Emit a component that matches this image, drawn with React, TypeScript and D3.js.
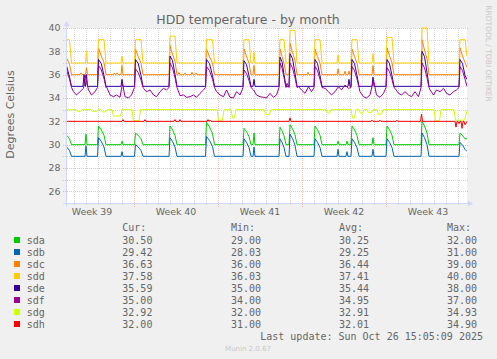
import React from "react";
import * as d3 from "d3";

const WIDTH = 497;
const HEIGHT = 359;

// time window of the graph (UTC), 800 hours
const startTime = new Date(Date.UTC(2025, 8, 23, 10, 0));
const endTime = new Date(Date.UTC(2025, 9, 26, 18, 0));
const SPAN_H = 800;

const title = "HDD temperature - by month";
const yTitle = "Degrees Celsius";
const yTicks = [26, 28, 30, 32, 34, 36, 38, 40];

const disks = ["sda", "sdb", "sdc", "sdd", "sde", "sdf", "sdg", "sdh"];
const colors = ["#00CC00", "#0066B3", "#FF8000", "#FFCC00", "#330099", "#990099", "#CCFF00", "#FF0000"];
const curVals = ["30.50", "29.42", "36.63", "37.58", "35.59", "35.00", "32.92", "32.00"];
const minVals = ["29.00", "28.03", "36.00", "36.03", "35.00", "34.00", "32.00", "31.00"];
const avgVals = ["30.25", "29.25", "36.44", "37.41", "35.44", "34.95", "32.91", "32.01"];
const maxVals = ["32.00", "31.00", "39.00", "40.00", "38.00", "37.00", "34.93", "34.90"];
const lastUpdate = "Last update: Sun Oct 26 15:05:09 2025";

// resting temperature of each disk
const baseline = [30, 29, 36, 37, 35, 34.9, 33, 32];

// shared heat-up episodes (hours since start of window)
const peakStartH = [-6, 63, 137, 206, 279, 354, 426, 446, 496, 570, 640, 710, 786];
const peakEndH = [5, 74, 148, 216, 291, 364, 434, 456, 506, 580, 650, 720, 796];

const sdaPeaks = [31.0, 31.6, 31.0, 31.6, 31.9, 31.4, 31.5, 31.7, 31.6, 31.6, 31.6, 32.0, 31.0];
const sdbPeaks = [30.0, 30.6, 30.0, 30.6, 30.7, 30.5, 30.5, 30.9, 30.5, 30.5, 30.5, 31.0, 30.2];
const sdcPeaks = [38.0, 38.3, 38.2, 38.5, 38.2, 38.2, 38.2, 38.7, 38.2, 38.2, 38.3, 39.0, 38.3];
const sddPeaks = [39.0, 39.0, 39.0, 39.3, 39.0, 39.0, 39.0, 39.8, 39.0, 39.0, 39.2, 40.0, 39.0];
const sdePeaks = [37.0, 37.3, 37.3, 37.6, 37.3, 37.2, 37.5, 37.8, 37.3, 37.3, 37.3, 38.0, 37.3];
const sdfPeaks = [36.7, 36.8, 36.5, 37.0, 36.7, 36.4, 37.0, 37.0, 36.7, 36.7, 36.6, 37.0, 36.7];

// short spikes [hour, value]
const sdaBlips = [[38, 30.9], [110, 30.3], [374, 31.0], [542, 30.3], [560, 30.3], [612, 30.6]];
const sdbBlips = [[38, 29.9], [110, 29.4], [374, 29.8], [542, 29.6], [560, 29.4], [612, 29.6]];
const sdcBlips = [[28, 36.15], [39, 36.6], [95, 36.15], [100, 36.15], [110, 36.8], [224, 36.2], [236, 36.15], [250, 36.2], [258, 36.15], [374, 36.8], [482, 36.2], [542, 36.5], [556, 36.3], [564, 36.3], [612, 36.8]];
const sddBlips = [[39, 38.0], [110, 37.6], [374, 37.9], [542, 37.7], [612, 37.8]];
const sdeBlips = [[34, 36.0], [39, 36.0], [110, 35.6], [374, 35.6], [564, 35.6], [612, 35.8]];
const sdhBlips = [[112, 32.15], [156, 32.15], [216, 32.15], [226, 32.15], [282, 32.15], [286, 32.1], [446, 32.3], [610, 32.1], [626, 32.1], [660, 32.1], [709, 32.6], [778, 31.5], [784, 31.8], [790, 31.4], [796, 31.7]];

// sdf wandering between 34 and 35 outside the episodes [hour, value]
const sdfWander = [
  [13, 34.54], [19, 34.26], [26, 34.54], [33, 34.83], [36, 35.97], [43, 34.69], [49, 34.26], [56, 34.54],
  [79, 34.97], [86, 34.26], [93, 34.11], [99, 34.26], [106, 34.06], [111, 35.26], [116, 34.11], [123, 34.0], [129, 34.26],
  [153, 34.83], [159, 34.54], [166, 34.69], [173, 34.26], [179, 34.11], [186, 34.54], [193, 34.83], [199, 34.69],
  [219, 34.69], [226, 34.2], [233, 34.26], [239, 34.06], [246, 34.11], [253, 34.26], [259, 34.06], [266, 34.4], [273, 34.69],
  [299, 34.54], [306, 34.26], [313, 34.11], [319, 34.69], [326, 34.06], [333, 34.0], [339, 34.54], [346, 34.26],
  [373, 34.69], [379, 34.26], [386, 34.11], [393, 34.06], [399, 34.0], [406, 34.4], [413, 34.06], [419, 34.26],
  [440, 35.26],
  [463, 34.97], [469, 34.69], [476, 34.4], [483, 34.97], [489, 34.54],
  [516, 34.83], [523, 34.54], [529, 34.26], [536, 34.54], [543, 34.97], [549, 34.69], [556, 35.11], [563, 34.83],
  [586, 34.54], [593, 34.11], [599, 34.0], [606, 34.26], [613, 35.54], [619, 34.26], [626, 34.06], [633, 34.4],
  [656, 34.83], [663, 34.4], [669, 34.26], [676, 34.54], [683, 34.26], [689, 34.11], [696, 34.54], [703, 34.11],
  [726, 34.69], [733, 34.26], [739, 34.69], [746, 34.54], [753, 34.83], [759, 34.4], [766, 34.26], [773, 34.54], [779, 34.69],
];

// sdg dips below 33 [startHour, endHour, value]
const sdgDips = [
  [20, 28, 32.85], [50, 60, 32.85], [70, 78, 32.8], [92, 108, 32.45], [132, 145, 32.05],
  [302, 312, 32.1], [330, 336, 32.3], [396, 406, 32.6], [520, 526, 32.7], [570, 576, 32.3],
  [586, 592, 32.7], [602, 610, 32.75], [622, 630, 32.6], [736, 746, 32.05], [776, 796, 32.1],
];

const peaksBy: (number[] | null)[] = [sdaPeaks, sdbPeaks, sdcPeaks, sddPeaks, sdePeaks, sdfPeaks, null, null];
const blipsBy: (number[][] | null)[] = [sdaBlips, sdbBlips, sdcBlips, sddBlips, sdeBlips, null, null, sdhBlips];
// shape of an episode: drop from top at mid, level reached at end
const holdBy = [[0.2, 0.5], [0.2, 0.5], [0.3, 0.45], [0, 1], [0.15, 0.4], [0.2, 0.4], [0, 0], [0, 0]];

type P = [number, number];

function buildSeries(i: number): P[] {
  const b = baseline[i];
  const pts: P[] = [[-12, b]];
  const peaks = peaksBy[i];
  const [k1, k2] = holdBy[i];
  if (peaks) {
    peaks.forEach((p, j) => {
      const s = peakStartH[j];
      const e = peakEndH[j];
      const m = s + (e - s) * 0.5;
      pts.push([s - 2, b], [s, p], [m, p - k1 * (p - b)], [e, b + k2 * (p - b)], [e + 4, b]);
    });
  }
  const blips = blipsBy[i];
  if (blips) blips.forEach(([h, v]) => pts.push([h - 2, b], [h, v], [h + 2, b]));
  if (i === 5) {
    sdfWander.forEach(([h, v]) => {
      const inside = peakStartH.some((s, j) => h > s - 2 && h < peakEndH[j] + 4);
      if (!inside) pts.push([h, v]);
    });
  }
  if (i === 6) {
    sdgDips.forEach(([s, e, v]) => pts.push([s - 2, b], [s + 1, v], [e - 1, v], [e + 2, b]));
  }
  const sorted = pts.filter((d) => d[0] <= SPAN_H - 3).sort((a, c) => a[0] - c[0]);
  sorted.push([SPAN_H, parseFloat(curVals[i])]);
  return sorted;
}

const hToDate = (h: number) => new Date(startTime.getTime() + h * 3600000);

export default function App() {
  const left = 67, right = 467, top = 28, bottom = 203;
  const x = d3.scaleUtc().domain([startTime, endTime]).range([left, right]);
  const y = d3.scaleLinear().domain([25, 40]).range([bottom, top]);
  const crisp = (v: number) => Math.round(v) + 0.5;

  const line = d3
    .line<P>()
    .x((d) => x(hToDate(d[0])))
    .y((d) => y(d[1]));

  const days = d3.utcDay.range(d3.utcDay.ceil(startTime), endTime);
  const mondays = d3.utcMonday.range(startTime, endTime);
  const mondayKeys = new Set(mondays.map((d) => d.getTime()));
  const minorDays = days.filter((d) => !mondayKeys.has(d.getTime()));
  const weekLabels = d3.utcMonday
    .range(d3.utcMonday.floor(startTime), endTime)
    .map((m) => new Date(m.getTime() + 3.5 * 86400000))
    .filter((d) => d >= startTime && d <= endTime);
  const fmtWeek = d3.utcFormat("%V");

  const yGrid = d3.range(26, 41);

  const minorGrid = "rgba(140,140,140,0.35)";
  const majorGrid = "rgba(210,60,60,0.33)";
  const axisCol = "#CFD6F8";
  const font = "DejaVu Sans, sans-serif";
  const mono = "DejaVu Sans Mono, monospace";
  const textCol = "#666666";

  const legendY0 = 240;
  const legendStep = 12;
  const colX = [122.3, 231, 339, 447];
  const headers = ["Cur:", "Min:", "Avg:", "Max:"];
  const cols = [curVals, minVals, avgVals, maxVals];

  return (
    <svg
      width={WIDTH}
      height={HEIGHT}
      style={{ position: "absolute", left: 0, top: 0, display: "block" }}
      xmlns="http://www.w3.org/2000/svg"
    >
      <defs>
        <clipPath id="plotclip">
          <rect x={left} y={top - 2} width={right - left} height={bottom - top + 2} />
        </clipPath>
      </defs>
      <rect x={0} y={0} width={WIDTH} height={HEIGHT} fill="#F0F0F0" />
      <rect x={left} y={top} width={right - left} height={bottom - top} fill="#FFFFFF" />

      {/* horizontal grid */}
      {yGrid.map((v) => {
        const major = v % 2 === 0;
        return (
          <line
            key={"h" + v}
            x1={left - 4}
            x2={right + 2}
            y1={crisp(y(v))}
            y2={crisp(y(v))}
            stroke={major ? majorGrid : minorGrid}
            strokeDasharray="1,1"
            strokeWidth={1}
          />
        );
      })}
      {/* vertical grid */}
      {minorDays.map((d) => (
        <line
          key={"d" + d.getTime()}
          x1={crisp(x(d))}
          x2={crisp(x(d))}
          y1={top}
          y2={bottom + 3}
          stroke={minorGrid}
          strokeDasharray="1,1"
        />
      ))}
      {mondays.map((d) => (
        <line
          key={"m" + d.getTime()}
          x1={crisp(x(d))}
          x2={crisp(x(d))}
          y1={top}
          y2={bottom + 4}
          stroke={majorGrid}
          strokeDasharray="1,1"
        />
      ))}

      {/* axes */}
      <line x1={left - 4} x2={right + 2} y1={bottom + 0.5} y2={bottom + 0.5} stroke={axisCol} />
      <line x1={left - 0.5} x2={left - 0.5} y1={bottom + 4} y2={top - 3} stroke={axisCol} />
      <path d={`M${left - 3.5},${top - 2} L${left + 2.5},${top - 2} L${left - 0.5},${top - 7} Z`} fill={axisCol} />
      <path d={`M${right + 1},${bottom - 2.5} L${right + 1},${bottom + 3.5} L${right + 6},${bottom + 0.5} Z`} fill={axisCol} />

      {/* data */}
      <g clipPath="url(#plotclip)">
        {disks.map((name, i) => (
          <path
            key={name}
            d={line(buildSeries(i)) || ""}
            fill="none"
            stroke={colors[i]}
            strokeWidth={1}
            strokeLinejoin="round"
          />
        ))}
      </g>

      {/* y labels */}
      {yTicks.map((v) => (
        <text
          key={"yl" + v}
          x={60.5}
          y={y(v) + 3.4}
          textAnchor="end"
          fontFamily={font}
          fontSize={9.4}
          fill={textCol}
        >
          {v}
        </text>
      ))}
      {/* week labels */}
      {weekLabels.map((d) => (
        <text
          key={"wl" + d.getTime()}
          x={x(d)}
          y={215.2}
          textAnchor="middle"
          fontFamily={font}
          fontSize={9.4}
          fill={textCol}
        >
          {"Week " + fmtWeek(d)}
        </text>
      ))}

      {/* titles */}
      <text x={248} y={23.5} textAnchor="middle" fontFamily={font} fontSize={12.5} fill={textCol}>
        {title}
      </text>
      <text
        transform="translate(14,114.5) rotate(-90)"
        textAnchor="middle"
        fontFamily={font}
        fontSize={11}
        fill={textCol}
      >
        {yTitle}
      </text>
      <text
        transform="translate(485.5,53.5) rotate(90)"
        textAnchor="middle"
        fontFamily={font}
        fontSize={7.5}
        fill="#C8C8C8"
      >
        RRDTOOL / TOBI OETIKER
      </text>

      {/* legend */}
      {headers.map((h, c) => (
        <text key={"hd" + c} x={colX[c]} y={230.8} fontFamily={mono} fontSize={10} fill={textCol}>
          {h}
        </text>
      ))}
      {disks.map((name, i) => {
        const cy = legendY0 + i * legendStep;
        return (
          <g key={"lg" + name}>
            <rect x={14} y={cy - 3} width={6} height={6} fill={colors[i]} />
            <text x={26.7} y={cy + 3.6} fontFamily={mono} fontSize={10} fill={textCol}>
              {name}
            </text>
            {cols.map((col, c) => (
              <text key={c} x={colX[c]} y={cy + 3.6} fontFamily={mono} fontSize={10} fill={textCol}>
                {col[i]}
              </text>
            ))}
          </g>
        );
      })}
      <text x={483} y={legendY0 + 8 * legendStep + 3.6} textAnchor="end" fontFamily={mono} fontSize={10} fill={textCol}>
        {lastUpdate}
      </text>
      <text x={248} y={351} textAnchor="middle" fontFamily={font} fontSize={7} fill="#C8C8C8">
        Munin 2.0.67
      </text>
    </svg>
  );
}
